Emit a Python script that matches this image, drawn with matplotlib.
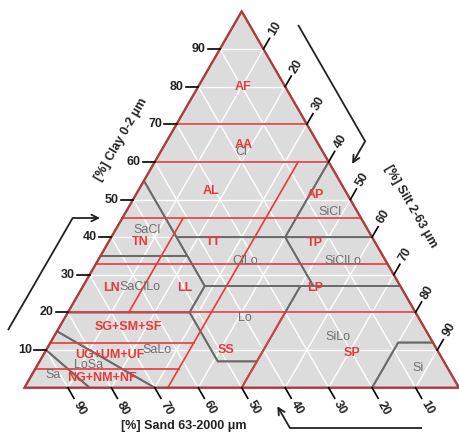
import matplotlib
matplotlib.use("Agg")
import matplotlib.pyplot as plt
from matplotlib.patches import Polygon
import numpy as np

plt.rcParams['font.family'] = ['Liberation Sans', 'DejaVu Sans']

# ---------------- data ----------------
tick_values = [10, 20, 30, 40, 50, 60, 70, 80, 90]

# red classification lines
red_clay_levels = [5, 12, 20, 33, 45, 60, 70]          # clay %
red_clay_silt_end = [33, 33, None, None, None, None, None]  # None = to right edge
red_silt_levels = [14, 33, 50]                          # silt %
red_silt_clay_from = [20, 0, 0]
red_silt_clay_to = [45, 60, 20]

# USDA texture classes (sand, silt, clay) vertices
usda_names = ['Sa', 'LoSa', 'SaLo', 'Lo', 'SiLo', 'Si', 'SaClLo', 'ClLo',
              'SiClLo', 'SaCl', 'SiCl', 'Cl']
usda_vertices = [
    [(100, 0, 0), (85, 15, 0), (90, 0, 10)],
    [(85, 15, 0), (70, 30, 0), (85, 0, 15), (90, 0, 10)],
    [(70, 30, 0), (50, 50, 0), (43, 50, 7), (52, 41, 7), (52, 28, 20), (80, 0, 20), (85, 0, 15)],
    [(43, 50, 7), (52, 41, 7), (52, 28, 20), (45, 28, 27), (23, 50, 27)],
    [(50, 50, 0), (20, 80, 0), (8, 80, 12), (0, 88, 12), (0, 73, 27), (23, 50, 27), (43, 50, 7)],
    [(20, 80, 0), (0, 100, 0), (0, 88, 12), (8, 80, 12)],
    [(80, 0, 20), (52, 28, 20), (45, 28, 27), (45, 20, 35), (65, 0, 35)],
    [(45, 28, 27), (20, 53, 27), (20, 40, 40), (45, 15, 40)],
    [(20, 53, 27), (0, 73, 27), (0, 60, 40), (20, 40, 40)],
    [(65, 0, 35), (45, 20, 35), (45, 0, 55)],
    [(20, 40, 40), (0, 60, 40), (0, 40, 60)],
    [(45, 0, 55), (45, 15, 40), (20, 40, 40), (0, 40, 60), (0, 0, 100)],
]

# grey USDA labels (silt, clay position)
usda_label_text = ['Cl', 'SiCl', 'SaCl', 'ClLo', 'SiClLo', 'SaClLo', 'Lo', 'SaLo',
                   'SiLo', 'LoSa', 'Sa', 'Si']
usda_label_silt = [18.6, 46.9, 7.2, 33.9, 56.5, 13.2, 41.6, 25.4, 65.5, 11.7, 4.9, 88.0]
usda_label_clay = [62.7, 46.8, 41.9, 33.7, 33.7, 26.8, 18.4, 10.0, 13.5, 6.0, 3.4, 5.2]

# red class labels
red_label_text = ['AF', 'AA', 'AL', 'AP', 'TN', 'TT', 'TP', 'LN', 'LL', 'LP',
                  'SG+SM+SF', 'UG+UM+UF', 'NG+NM+NF', 'SS', 'SP']
red_label_silt = [10.5, 18.1, 16.9, 41.3, 7.2, 24.1, 47.7, 6.9, 23.8, 53.7,
                  15.8, 15.4, 16.5, 41.5, 70.8]
red_label_clay = [79.8, 64.5, 52.3, 51.2, 38.8, 38.8, 38.4, 26.4, 26.4, 26.4,
                  16.2, 8.7, 2.5, 10.0, 9.1]

axis_titles = ['[%] Clay 0-2 \u03bcm', '[%] Silt 2-63 \u03bcm', '[%] Sand 63-2000 \u03bcm']

# ---------------- helpers ----------------
S3 = np.sqrt(3) / 2


def tp(silt, clay):
    return silt + clay / 2.0, clay * S3


fig = plt.figure(figsize=(4.59, 4.38), dpi=100)
ax = fig.add_axes([0, 0, 1, 1])
ax.set_xlim(-5.614, 100.0)
ax.set_ylim(-11.57, 89.21)
ax.axis('off')

FILL = '#dcdcdc'
BORDER = '#b23a3a'
RED = '#e63a3a'
GREY = '#6a6a6a'
GREYTXT = '#707070'

tri = [tp(0, 0), tp(100, 0), tp(0, 100)]
ax.add_patch(Polygon(tri, closed=True, facecolor=FILL, edgecolor='none', zorder=0))

# white grid
for v in tick_values:
    for a, b in [((0, v), (100 - v, v)), ((v, 0), (v, 100 - v)), ((100 - v, 0), (0, 100 - v))]:
        p, q = tp(*a), tp(*b)
        ax.plot([p[0], q[0]], [p[1], q[1]], color='white', lw=1.0, zorder=1)

# USDA boundaries
for verts in usda_vertices:
    pts = [tp(si, cl) for (_, si, cl) in verts]
    ax.add_patch(Polygon(pts, closed=True, facecolor='none', edgecolor=GREY,
                         lw=1.3, zorder=2, joinstyle='miter'))

# red lines
for c, e in zip(red_clay_levels, red_clay_silt_end):
    end = 100 - c if e is None else e
    p, q = tp(0, c), tp(end, c)
    ax.plot([p[0], q[0]], [p[1], q[1]], color=RED, lw=1.2, zorder=3)
for s, c1, c2 in zip(red_silt_levels, red_silt_clay_from, red_silt_clay_to):
    p, q = tp(s, c1), tp(s, c2)
    ax.plot([p[0], q[0]], [p[1], q[1]], color=RED, lw=1.2, zorder=3)

# border
ax.add_patch(Polygon(tri, closed=True, facecolor='none', edgecolor=BORDER, lw=1.6,
                     zorder=4, clip_on=False))

# ticks
L = 2.8
d_right = np.array([0.5, S3])
d_bottom = np.array([0.5, -S3])
for v in tick_values:
    # clay (left)
    p = np.array(tp(0, v))
    ax.plot([p[0], p[0] - L], [p[1], p[1]], color='black', lw=1.2, zorder=4)
    ax.text(p[0] - L - 0.5, p[1], str(v), ha='right', va='center', fontsize=9,
            fontweight='bold', color='#222222', zorder=5)
    # silt (right)
    p = np.array(tp(v, 100 - v))
    q = p + L * d_right
    ax.plot([p[0], q[0]], [p[1], q[1]], color='black', lw=1.2, zorder=4)
    t = p + (L + 2.6) * d_right
    ax.text(t[0], t[1], str(v), ha='center', va='center', rotation=60, fontsize=9,
            fontweight='bold', color='#222222', zorder=5)
    # sand (bottom)
    p = np.array(tp(v, 0))
    q = p + L * d_bottom
    ax.plot([p[0], q[0]], [p[1], q[1]], color='black', lw=1.2, zorder=4)
    t = p + (L + 2.6) * d_bottom
    ax.text(t[0], t[1], str(100 - v), ha='center', va='center', rotation=-60,
            fontsize=9, fontweight='bold', color='#222222', zorder=5)

# class labels
for txt, s, c in zip(usda_label_text, usda_label_silt, usda_label_clay):
    x, y = tp(s, c)
    ax.text(x, y, txt, ha='center', va='center', fontsize=9, color=GREYTXT, zorder=5)
for txt, s, c in zip(red_label_text, red_label_silt, red_label_clay):
    x, y = tp(s, c)
    ax.text(x, y, txt, ha='center', va='center', fontsize=9, fontweight='bold',
            color=RED, zorder=6)

# axis titles
ax.text(22.2, 57.0, axis_titles[0], rotation=60, ha='center', va='center',
        fontsize=9, fontweight='bold', color='#222222')
ax.text(88.95, 41.6, axis_titles[1], rotation=-60, ha='center', va='center',
        fontsize=9, fontweight='bold', color='#222222')
ax.text(36.6, -8.81, axis_titles[2], ha='center', va='center',
        fontsize=9, fontweight='bold', color='#222222')

# reading-direction arrows
AC = '#222222'
arrow_paths = [
    [(-3.77, 13.28), (11.11, 39.05), (17.4, 39.05)],
    [(63.0, 83.45), (78.4, 56.7), (75.4, 51.5)],
    [(91.5, -9.27), (61.1, -9.27), (58.2, -4.25)],
]
for path in arrow_paths:
    xs = [p[0] for p in path[:-1]]
    ys = [p[1] for p in path[:-1]]
    ax.plot(xs, ys, color=AC, lw=1.3, zorder=5, solid_capstyle='butt')
    ax.annotate('', xy=path[-1], xytext=path[-2],
                arrowprops=dict(arrowstyle='->', color=AC, lw=1.3,
                                shrinkA=0, shrinkB=0, mutation_scale=12),
                zorder=5)

fig.savefig('out.png', dpi=100)
